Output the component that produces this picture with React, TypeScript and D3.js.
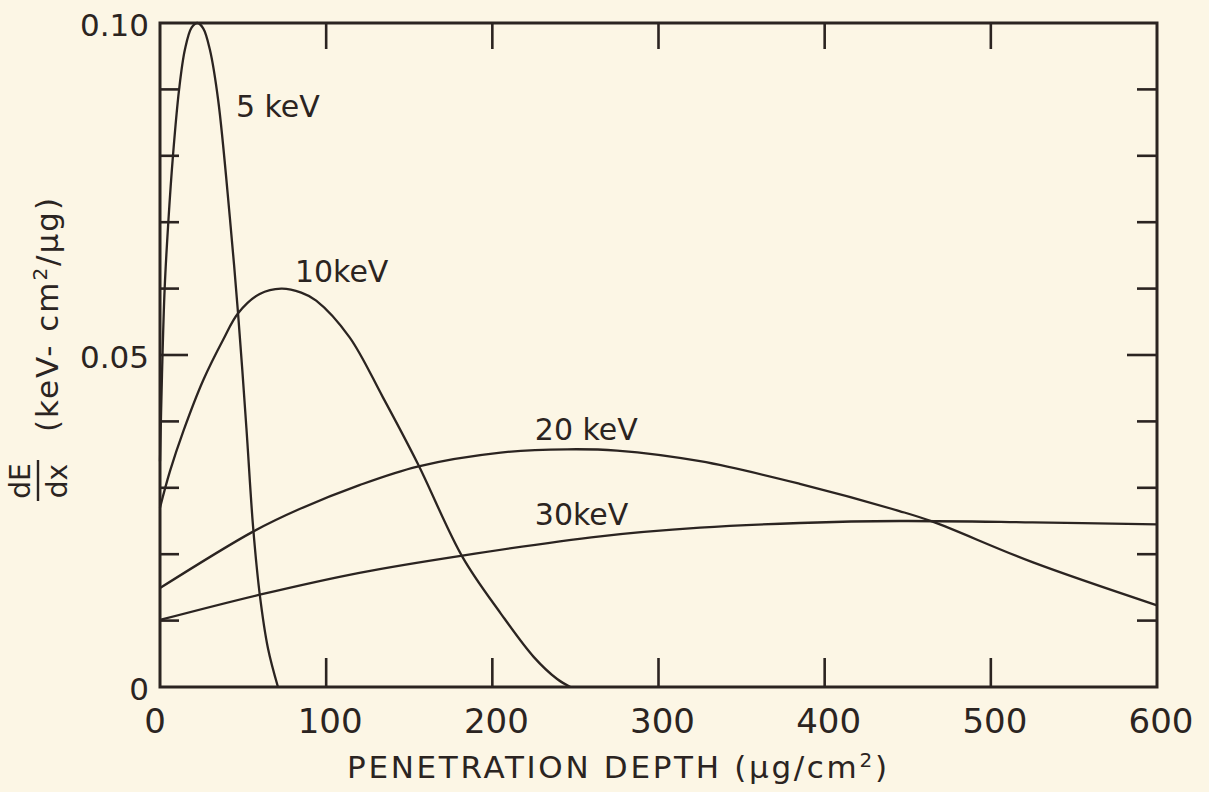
import * as d3 from "d3";
import { useEffect, useRef } from "react";

// energy deposition curves (depth in µg/cm², dE/dx in keV-cm²/µg)
const depth5 = [0, 1.2, 2.8, 5, 7.8, 11.5, 15, 19, 22.5, 26, 30, 35, 42, 47, 52, 56, 60, 65, 71];
const dedx5 = [0.034, 0.047, 0.06, 0.07, 0.08, 0.09, 0.096, 0.0993, 0.1, 0.0992, 0.096, 0.0884, 0.0708, 0.0562, 0.039, 0.0242, 0.014, 0.0058, 0];

const depth10 = [0, 6, 14, 26, 38, 47, 60, 73, 85, 94, 114, 134, 155, 182, 205, 225, 239, 247];
const dedx10 = [0.027, 0.0325, 0.0385, 0.0462, 0.0523, 0.0563, 0.0592, 0.06, 0.0594, 0.0582, 0.0527, 0.0437, 0.0337, 0.0196, 0.0111, 0.0045, 0.0012, 0];

const depth20 = [0, 56, 84, 120, 155, 205, 245, 275, 325, 385, 445, 465, 525, 600];
const dedx20 = [0.0149, 0.0234, 0.0268, 0.0304, 0.0332, 0.0353, 0.0358, 0.0356, 0.034, 0.0306, 0.0265, 0.0249, 0.0188, 0.0123];

const depth30 = [0, 60, 120, 182, 265, 325, 385, 445, 525, 600];
const dedx30 = [0.0101, 0.0139, 0.0172, 0.0198, 0.0227, 0.024, 0.0247, 0.025, 0.0248, 0.0245];

const curveNames = ["5 keV", "10keV", "20 keV", "30keV"];
const xTickValues = [0, 100, 200, 300, 400, 500, 600];
const yTickLabels = ["0", "0.05", "0.10"];

const W = 1209;
const H = 792;
const INK = "#2b2421";
const PAPER = "#fcf6e5";
const NUM_FONT = "'DejaVu Sans', sans-serif";

const App = () => {
    const svgRef = useRef(null);

    useEffect(() => {
        const svg = d3.select(svgRef.current);
        svg.selectAll("*").remove();

        const x = d3.scaleLinear().domain([0, 600]).range([160, 1157]);
        const y = d3.scaleLinear().domain([0, 0.1]).range([687, 23]);

        svg.append("rect").attr("width", W).attr("height", H).attr("fill", PAPER);

        // curves
        const series = [
            [depth5, dedx5],
            [depth10, dedx10],
            [depth20, dedx20],
            [depth30, dedx30],
        ];
        const line = d3.line()
            .x(d => x(d[0]))
            .y(d => y(Math.max(0, d[1])))
            .curve(d3.curveCatmullRom.alpha(0.5));

        series.forEach(([xs, ys]) => {
            const pts = xs.map((v, i) => [v, ys[i]]);
            svg.append("path")
                .attr("d", line(pts))
                .attr("fill", "none")
                .attr("stroke", INK)
                .attr("stroke-width", 2.3)
                .attr("stroke-linejoin", "round");
        });

        // curve labels (anchor in data units)
        const labelAt = [[45.7, 0.0858], [81.2, 0.061], [225.6, 0.0372], [225.6, 0.0244]];
        curveNames.forEach((name, i) => {
            svg.append("text")
                .attr("x", x(labelAt[i][0]))
                .attr("y", y(labelAt[i][1]))
                .attr("font-family", NUM_FONT)
                .attr("font-size", 30)
                .attr("fill", INK)
                .text(name);
        });

        // frame
        svg.append("rect")
            .attr("x", x(0))
            .attr("y", y(0.1))
            .attr("width", x(600) - x(0))
            .attr("height", y(0) - y(0.1))
            .attr("fill", "none")
            .attr("stroke", INK)
            .attr("stroke-width", 3);

        // inner ticks
        const ticks = svg.append("g").attr("stroke", INK).attr("stroke-width", 2.6);
        d3.range(1, 10).forEach(k => {
            const v = k / 100;
            const len = k === 5 ? 28 : 19;
            ticks.append("line").attr("x1", x(0)).attr("x2", x(0) + len).attr("y1", y(v)).attr("y2", y(v));
            ticks.append("line").attr("x1", x(600)).attr("x2", x(600) - (k === 5 ? 30 : 20)).attr("y1", y(v)).attr("y2", y(v));
        });
        xTickValues.slice(1, -1).forEach(v => {
            ticks.append("line").attr("x1", x(v)).attr("x2", x(v)).attr("y1", y(0)).attr("y2", y(0) - 29);
            ticks.append("line").attr("x1", x(v)).attr("x2", x(v)).attr("y1", y(0.1)).attr("y2", y(0.1) + 26);
        });

        // x tick labels
        xTickValues.forEach(v => {
            svg.append("text")
                .attr("x", v === 0 ? x(v) - 5 : x(v) + 4)
                .attr("y", 733)
                .attr("text-anchor", "middle")
                .attr("font-family", NUM_FONT)
                .attr("font-size", 34)
                .attr("fill", INK)
                .text(String(v));
        });

        // y tick labels
        [0, 0.05, 0.1].forEach((v, i) => {
            svg.append("text")
                .attr("x", 149)
                .attr("y", y(v) + 2)
                .attr("dy", "0.36em")
                .attr("text-anchor", "end")
                .attr("font-family", NUM_FONT)
                .attr("font-size", 31)
                .attr("fill", INK)
                .text(yTickLabels[i]);
        });

        // x axis title
        const xt = svg.append("text")
            .attr("x", 347)
            .attr("y", 778)
            .attr("textLength", 540)
            .attr("lengthAdjust", "spacing")
            .attr("font-family", NUM_FONT)
            .attr("font-size", 31)
            .attr("fill", INK);
        xt.append("tspan").text("PENETRATION DEPTH  (\u03bcg/cm");
        xt.append("tspan").attr("dy", -11).attr("font-size", 20).text("2");
        xt.append("tspan").attr("dy", 11).text(")");

        // y axis title
        const yt = svg.append("text")
            .attr("transform", "translate(58,432) rotate(-90)")
            .attr("textLength", 234)
            .attr("lengthAdjust", "spacing")
            .attr("font-family", NUM_FONT)
            .attr("font-size", 31)
            .attr("fill", INK);
        yt.append("tspan").text("(keV- cm");
        yt.append("tspan").attr("dy", -11).attr("font-size", 20).text("2");
        yt.append("tspan").attr("dy", 11).text("/\u03bcg)");

        svg.append("text")
            .attr("transform", "translate(30,481) rotate(-90)")
            .attr("text-anchor", "middle")
            .attr("font-family", NUM_FONT)
            .attr("font-size", 28)
            .attr("fill", INK)
            .text("dE");
        svg.append("line")
            .attr("x1", 38).attr("x2", 38)
            .attr("y1", 460).attr("y2", 501)
            .attr("stroke", INK)
            .attr("stroke-width", 2.4);
        svg.append("text")
            .attr("transform", "translate(67,481) rotate(-90)")
            .attr("text-anchor", "middle")
            .attr("font-family", NUM_FONT)
            .attr("font-size", 28)
            .attr("fill", INK)
            .text("dx");
    }, []);

    return (
        <div style={{ position: "absolute", left: 0, top: 0, width: W, height: H }}>
            <svg ref={svgRef} width={W} height={H} />
        </div>
    );
};

export default App;
